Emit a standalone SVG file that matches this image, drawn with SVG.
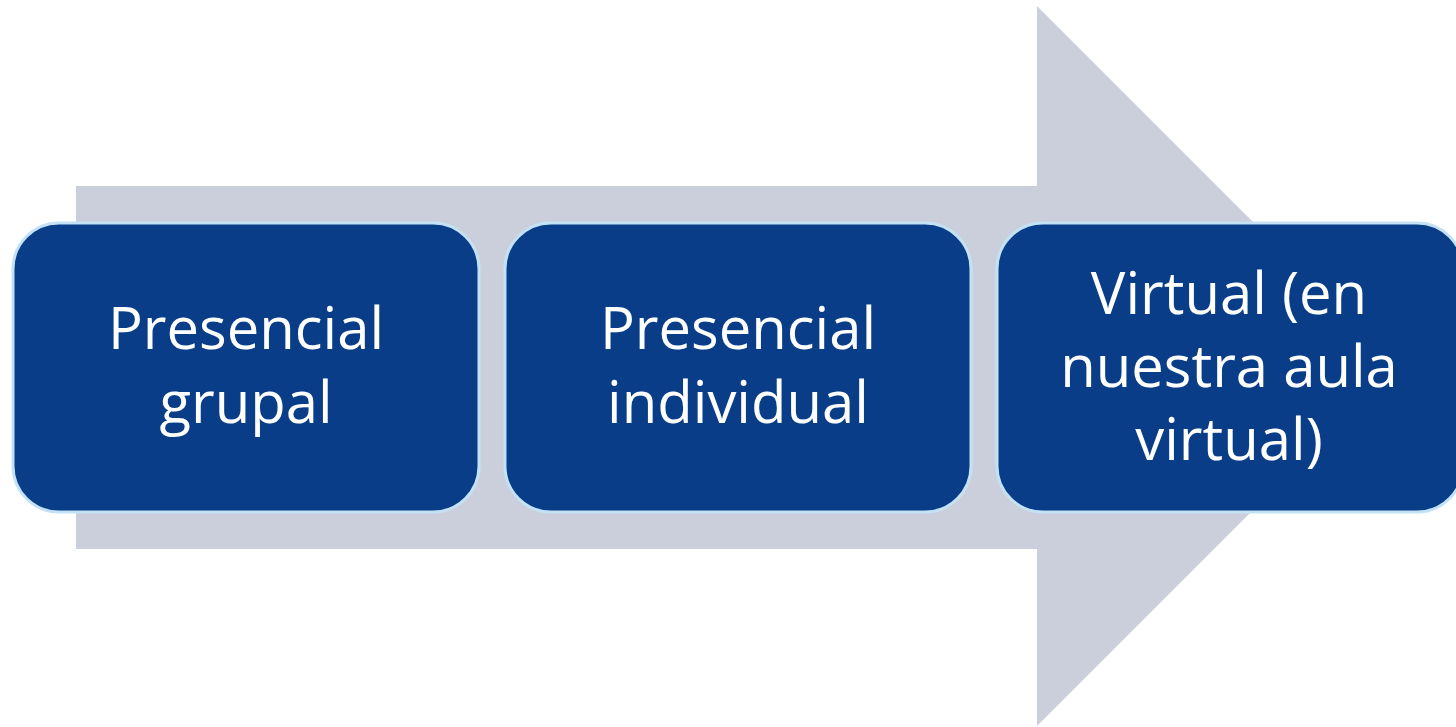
<svg xmlns="http://www.w3.org/2000/svg" width="1456" height="727" viewBox="0 0 1456 727">
<style>
.box{fill:#0a3d87;stroke:#c4e2f6;stroke-width:3}
.lbl{font-family:"Open Sans","Noto Sans",sans-serif;font-size:58px;fill:#ffffff;text-anchor:middle}
</style>
<rect width="1456" height="727" fill="#ffffff"/>
<g id="arrow">
<polygon points="76,186 1037,186 1037,6 1397,366 1037,726 1037,549 76,549" fill="#cbcfdb"/>
</g>
<g id="connectors"></g>
<g id="node1">
<rect class="box" x="13" y="223" width="466" height="289" rx="46" ry="46"/>
<text class="lbl"><tspan x="246" y="349">Presencial</tspan><tspan x="246" y="423">grupal</tspan></text>
</g>
<g id="node2">
<rect class="box" x="505" y="223" width="466" height="289" rx="46" ry="46"/>
<text class="lbl"><tspan x="738" y="349">Presencial</tspan><tspan x="738" y="423">individual</tspan></text>
</g>
<g id="node3">
<rect class="box" x="997" y="223" width="466" height="289" rx="46" ry="46"/>
<text class="lbl"><tspan x="1229" y="314">Virtual (en</tspan><tspan x="1229" y="387">nuestra aula</tspan><tspan x="1229" y="460">virtual)</tspan></text>
</g>
</svg>
